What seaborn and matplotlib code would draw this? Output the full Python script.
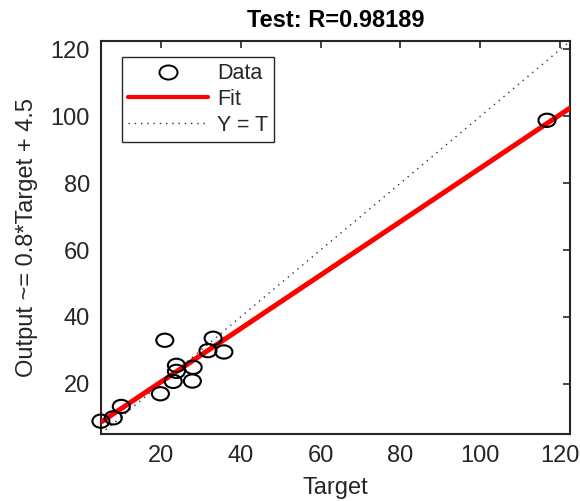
import numpy as np
import pandas as pd
import matplotlib
matplotlib.use("Agg")
import matplotlib.pyplot as plt
from matplotlib.path import Path
from matplotlib.transforms import Affine2D
from matplotlib.lines import Line2D
import seaborn as sns

# ---- data ----
target = [5.0, 8.1, 10.1, 19.9, 21.0, 23.1, 23.9, 23.9, 27.9, 28.1, 31.8, 33.1, 35.8, 116.7]
output = [8.8, 9.8, 13.2, 17.0, 33.0, 20.7, 23.7, 25.5, 20.8, 24.9, 29.9, 33.6, 29.5, 98.8]
fit_slope = 0.8
fit_intercept = 4.5
axis_range = [5.0, 122.5]
r_value = "0.98189"
ticks = [20, 40, 60, 80, 100, 120]

sns.set_theme(style="white")
plt.rcParams['font.family'] = ['Liberation Sans', 'DejaVu Sans']

fig = plt.figure(figsize=(5.8, 5.01), dpi=100)
ax = fig.add_axes([0.174, 0.134, 0.809, 0.784])

df = pd.DataFrame({"Target": target, "Output": output})
line_x = np.array(axis_range)
fit_df = pd.DataFrame({"x": line_x, "y": fit_slope * line_x + fit_intercept})
id_df = pd.DataFrame({"x": line_x, "y": line_x})

ellipse = Path.unit_circle().transformed(Affine2D().scale(1.0, 0.78))

sns.lineplot(data=id_df, x="x", y="y", ax=ax, color="#333333", linestyle=(0, (1, 3.5)),
             linewidth=1.0, zorder=2)
sns.lineplot(data=fit_df, x="x", y="y", ax=ax, color="#ff0000", linewidth=3.6, zorder=3)
sns.scatterplot(data=df, x="Target", y="Output", ax=ax, marker=ellipse, s=150,
                facecolors="none", edgecolor="black", linewidth=1.5, zorder=4,
                clip_on=False)

ax.set_xlim(axis_range)
ax.set_ylim(axis_range)
ax.set_xticks(ticks)
ax.set_yticks(ticks)
ax.tick_params(axis="both", which="major", direction="in", length=5, width=1.2,
               top=True, right=True, labelsize=17, colors="#262626", pad=8)
for sp in ax.spines.values():
    sp.set_visible(True)
    sp.set_color("#262626")
    sp.set_linewidth(1.5)

ax.set_xlabel("Target", fontsize=17, color="#262626", labelpad=7)
ax.set_ylabel("Output ~= 0.8*Target + 4.5", fontsize=17, color="#262626", labelpad=9)
ax.set_title("Test: R=" + r_value, fontsize=17, fontweight="bold", color="black", pad=10)

handles = [
    Line2D([], [], linestyle="none", marker=ellipse, markersize=13, markerfacecolor="none",
           markeredgecolor="black", markeredgewidth=1.4),
    Line2D([], [], color="#ff0000", linewidth=3.0),
    Line2D([], [], color="#333333", linestyle=(0, (1, 3.5)), linewidth=1.0),
]
leg = ax.legend(handles, ["Data", "Fit", "Y = T"], loc="upper left",
                bbox_to_anchor=(0.045, 0.96), borderaxespad=0, fontsize=15.5,
                handlelength=3.7, handletextpad=0.4, labelspacing=0.22,
                frameon=True, fancybox=False, edgecolor="#262626", framealpha=1,
                borderpad=0.3)
leg.get_frame().set_linewidth(1.0)

fig.savefig("out.png", dpi=100)
